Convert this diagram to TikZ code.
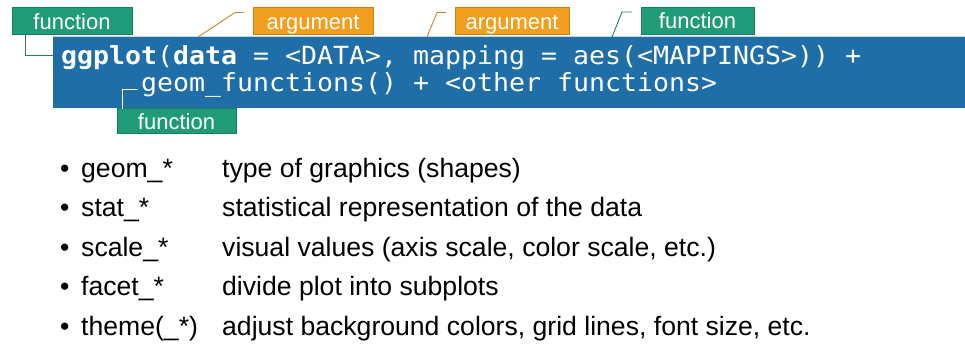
\documentclass[tikz,border=0pt]{standalone}
\usepackage{fontspec}
\setmainfont{Liberation Sans}
\newfontfamily\codefont[FakeStretch=1.063]{DejaVu Sans Mono}

\definecolor{codeblue}{HTML}{1F6EA8}
\definecolor{codeedge}{HTML}{C9D6E0}
\definecolor{fngreen}{HTML}{1F9C77}
\definecolor{fnedge}{HTML}{197F60}
\definecolor{argorange}{HTML}{F29F1F}
\definecolor{argedge}{HTML}{C98213}
\definecolor{argline}{HTML}{C6882D}
\definecolor{fnline}{HTML}{237E61}

\tikzset{
  tag/.style={rectangle, inner sep=0pt, minimum width=#1, minimum height=27pt,
    text height=16pt, text depth=0pt, text=white, line width=0.8pt,
    font=\fontsize{22}{26}\selectfont},
  fntag/.style={tag=#1, fill=fngreen, draw=fnedge},
  argtag/.style={tag=#1, fill=argorange, draw=argedge},
  codeline/.style={anchor=base west, inner sep=0pt, text=white,
    font=\codefont\fontsize{25}{29}\selectfont},
  itemtext/.style={anchor=base west, inner sep=0pt, text=black,
    font=\fontsize{26.6}{30}\selectfont},
  argconn/.style={draw=argline, line width=0.9pt},
  fnconn/.style={draw=fnline, line width=0.9pt},
}

\begin{document}
\begin{tikzpicture}[x=1pt, y=-1pt]
\useasboundingbox[fill=white] (0,0) rectangle (965,346);

% code block
\node[fill=codeblue, inner sep=0pt, anchor=north west,
      minimum width=912pt, minimum height=72pt] (code) at (53,36) {};
\draw[codeedge, line width=1pt] (code.north west) -- (code.north east);

\node[codeline] (l1) at (61,64)
  {\textbf{ggplot}(\textbf{data} = <DATA>, mapping = aes(<MAPPINGS>)) +};
\node[codeline] (l2) at (141,91)
  {geom\_functions() + <other functions>};

% tags
\node[fntag=120pt] (f1) at (72,21) {function};
\node[argtag=120pt] (a1) at (313,21) {argument};
\node[argtag=114pt] (a2) at (512,21) {argument};
\node[fntag=113pt] (f2) at (697.5,20.5) {function};
\node[fntag=119pt, minimum height=25pt] (f3) at (176.5,121) {function};

% leader lines
\coordinate (f1a) at (25,35);
\coordinate (f1b) at (53,55);
\draw[fnconn] (f1a) |- (f1b);

\coordinate (a1a) at (198,37);
\coordinate (a1b) at (235,12.5);
\coordinate (a1c) at (244,12.5);
\draw[argconn] (a1a) -- (a1b) -- (a1c);

\coordinate (a2a) at (427,37);
\coordinate (a2b) at (437,12.5);
\coordinate (a2c) at (446,12.5);
\draw[argconn] (a2a) -- (a2b) -- (a2c);

\coordinate (f2a) at (612,37);
\coordinate (f2b) at (622,12);
\coordinate (f2c) at (632,12);
\draw[fnconn] (f2a) -- (f2b) -- (f2c);

\coordinate (f3a) at (122.5,108.5);
\coordinate (f3b) at (138,89);
\draw[white, line width=0.9pt] (f3a) |- (f3b);

% list of layer families
\foreach \y/\name/\desc [count=\i] in {
  177/geom\_*/type of graphics (shapes),
  216/stat\_*/statistical representation of the data,
  256/scale\_*/{visual values (axis scale, color scale, etc.)},
  295/facet\_*/divide plot into subplots,
  335/theme(\_*)/{adjust background colors, grid lines, font size, etc.}} {
  \node[itemtext] (b\i) at (60,\y) {•};
  \node[itemtext] (n\i) at (81,\y) {\name};
  \node[itemtext] (d\i) at (222,\y) {\desc};
}
\end{tikzpicture}
\end{document}
